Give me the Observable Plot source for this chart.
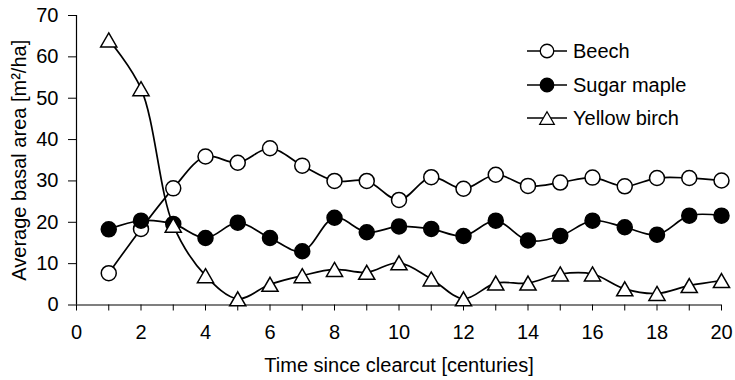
<!DOCTYPE html>
<html><head><meta charset="utf-8">
<script src="https://cdn.jsdelivr.net/npm/d3@7"></script>
<script src="https://cdn.jsdelivr.net/npm/@observablehq/plot@0.6"></script>
<style>
body{margin:0;background:#fff;}
#chart{position:relative;width:735px;height:380px;font-family:"Liberation Sans",Arial,sans-serif;}
#legend{position:absolute;left:0;top:0;pointer-events:none;}
</style></head><body><div id="chart"></div>
<script>
// ---- data ----
const centuries = [1,2,3,4,5,6,7,8,9,10,11,12,13,14,15,16,17,18,19,20];
const beech = [7.7,18.4,28.2,35.9,34.4,37.9,33.7,30.0,30.0,25.4,30.9,28.1,31.5,28.8,29.6,30.8,28.7,30.7,30.7,30.1];
const sugarMaple = [18.3,20.4,19.6,16.2,19.9,16.2,13.0,21.1,17.6,19.0,18.4,16.7,20.4,15.6,16.7,20.4,18.8,17.0,21.6,21.6];
const yellowBirch = [64.1,52.3,19.3,7.1,1.5,5.0,7.1,8.6,7.9,10.2,6.3,1.5,5.3,5.3,7.5,7.5,3.9,2.8,4.7,5.9];
const seriesNames = ["Beech","Sugar maple","Yellow birch"];
const xTicks = [0,1,2,3,4,5,6,7,8,9,10,11,12,13,14,15,16,17,18,19,20];
const yTicks = [0,10,20,30,40,50,60,70];
const xLabel = "Time since clearcut [centuries]";
const yLabel = "Average basal area [m²/ha]";

// triangle centred on its bounding box
const tri = {draw(ctx, size){
  const s = Math.sqrt(size*4/Math.sqrt(3)), h = s*Math.sqrt(3)/2;
  ctx.moveTo(0,-h/2); ctx.lineTo(s/2,h/2); ctx.lineTo(-s/2,h/2); ctx.closePath();
}};

const seriesValues = [beech, sugarMaple, yellowBirch];
const styles = [
  {symbol:"circle", fill:"white", r:7.5},
  {symbol:"circle", fill:"black", r:7.5},
  {symbol:tri, fill:"white", r:6}
];
const rows = seriesValues.map(vals => centuries.map((c,i)=>({x:c, y:vals[i]})));

const marks = [
  Plot.ruleY([0], {stroke:"black", strokeWidth:1.2}),
  Plot.ruleX([0], {stroke:"black", strokeWidth:1.2}),
  Plot.axisX({ticks:xTicks, tickSize:6, tickPadding:14, tickFormat:d => d%2===0 ? String(d) : "", label:null, stroke:"black"}),
  Plot.axisY({ticks:yTicks, tickSize:8, tickPadding:10, label:null, stroke:"black"}),
  Plot.text([xLabel], {frameAnchor:"bottom", lineAnchor:"middle", dy:61, fontSize:20, fill:"black"}),
  Plot.text([yLabel], {frameAnchor:"left", textAnchor:"middle", lineAnchor:"middle", rotate:-90, dx:-57, fontSize:20, fill:"black"})
];
rows.forEach((data,k)=>{
  marks.push(Plot.line(data, {x:"x", y:"y", curve:"catmull-rom", stroke:"black", strokeWidth:1.7}));
  marks.push(Plot.dot(data, {x:"x", y:"y", r:styles[k].r, symbol:styles[k].symbol, fill:styles[k].fill, stroke:"black", strokeWidth:1.5}));
});

const plot = Plot.plot({
  width:735, height:380,
  marginLeft:76, marginRight:14, marginTop:15, marginBottom:75.5,
  x:{domain:[0,20]},
  y:{domain:[0,70]},
  style:{fontFamily:'"Liberation Sans",Arial,sans-serif', fontSize:"20px", color:"black", background:"white", overflow:"visible"},
  marks
});
const chart = document.getElementById("chart");
chart.appendChild(plot);

// legend
const leg = d3.select(chart).append("svg").attr("id","legend").attr("width",735).attr("height",380);
const rowY = [51, 85, 118];
seriesNames.forEach((name,k)=>{
  const g = leg.append("g").attr("transform",`translate(0,${rowY[k]})`);
  g.append("line").attr("x1",527).attr("x2",567).attr("y1",0).attr("y2",0).attr("stroke","black").attr("stroke-width",1.7);
  const sym = k===2 ? tri : d3.symbolCircle;
  const r = styles[k].r*0.9;
  g.append("path").attr("transform","translate(547,0)").attr("d", d3.symbol(sym, Math.PI*r*r)())
    .attr("fill",styles[k].fill).attr("stroke","black").attr("stroke-width",1.3);
  g.append("text").attr("x",573).attr("y",7).attr("font-size",20).attr("fill","black")
    .attr("font-family",'"Liberation Sans",Arial,sans-serif').text(name);
});
</script></body></html>
